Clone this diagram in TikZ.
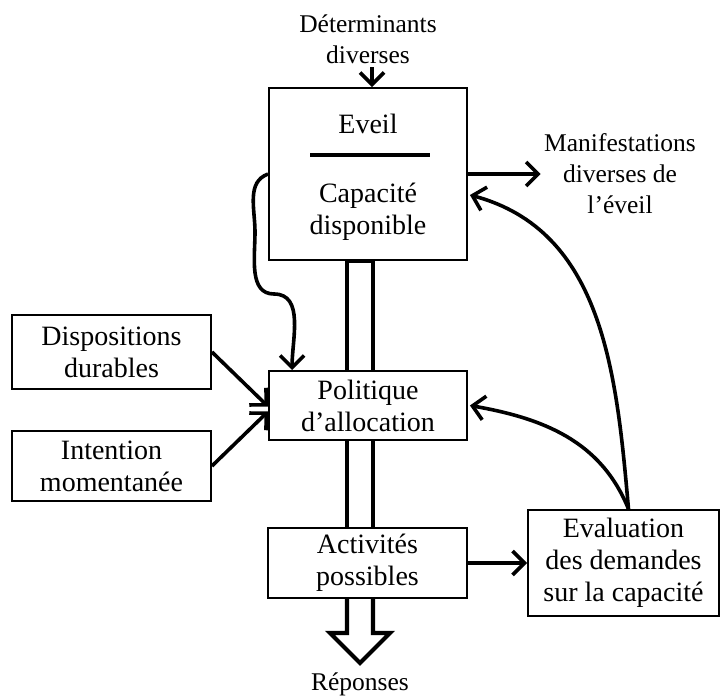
\documentclass[tikz,border=0pt]{standalone}
\usepackage{fontspec}
\setmainfont{Liberation Serif}
\usetikzlibrary{calc,arrows.meta}
\newcommand{\boxfont}{\fontsize{28}{32}\selectfont}
\newcommand{\lblfont}{\fontsize{25.5}{31}\selectfont}
\tikzset{
  box/.style={draw, line width=1.9pt, inner sep=0pt, align=center, font=\boxfont},
  txt/.style={align=center, font=\boxfont},
  lbl/.style={align=center, font=\lblfont},
  arr/.style={line width=3.6pt, -{Straight Barb[length=12pt,width=24pt]}},
  hollow/.style={line width=4.2pt, line join=miter}
}
\begin{document}
\begin{tikzpicture}[x=1pt,y=-1pt]
  \useasboundingbox (0,0) rectangle (720,698);

  % boxes
  \node[box, minimum width=198pt, minimum height=172pt] (eveil) at (368,174) {};
  \node[txt] (eveiltxt) at (368,124) {Eveil};
  \node[txt] (capa) at (368,212) {Capacité\\disponible};
  \draw[line width=3.8pt] (310,155) -- (430,155);

  \node[box, minimum width=199pt, minimum height=74pt] (disp) at (111.5,352) {Dispositions\\durables};
  \node[box, minimum width=199pt, minimum height=70pt] (int) at (111.5,466) {Intention\\momentanée};
  \node[box, minimum width=198pt, minimum height=69pt] (pol) at (368,405.5) {Politique\\d’allocation};
  \node[box, minimum width=199pt, minimum height=70pt] (act) at (367.5,563) {Activités\\possibles};
  \node[box, minimum width=191pt, minimum height=106pt] (eval) at (623.5,563) {Evaluation\\des demandes\\sur la capacité};

  % labels
  \node[lbl] (det) at (368,39) {Déterminants\\diverses};
  \node[lbl] (manif) at (620,174) {Manifestations\\diverses de\\l’éveil};
  \node[lbl] (rep) at (360,684) {Réponses};

  % hollow arrow
  \def\shl{347}
  \def\shr{373}
  \draw[hollow] (\shl,0 |- pol.north) -- (\shl,0 |- eveil.south) -- (\shr,0 |- eveil.south) -- (\shr,0 |- pol.north);
  \draw[hollow] (\shl,0 |- pol.south) -- (\shl,0 |- act.north);
  \draw[hollow] (\shr,0 |- pol.south) -- (\shr,0 |- act.north);
  \draw[hollow] (\shl,0 |- act.south) -- (\shl,633) -- (330,633) -- (360,663) -- (390,633) -- (\shr,633) -- (\shr,0 |- act.south);

  % connectors
  \draw[arr] (det.south -| 372,0) -- (eveil.north -| 372,0);
  \draw[arr] (eveil.east |- manif) -- (manif.west);
  \draw[arr] (disp.east) -- ($(pol.west)+(0,1)$);
  \draw[arr] (int.east) -- ($(pol.west)+(0,6)$);
  \draw[arr] (act.east) -- (eval.west);
  \draw[arr] (eveil.west) to[out=200,in=90] (255,232) to[out=-90,in=180] (274,294)
    to[out=0,in=90] ($(pol.north west)+(24,0)$);
  \draw[arr] ($(eval.north)+(5,0)$) to[out=95,in=-15] ($(eveil.east)+(2,21)$);
  \draw[arr] ($(eval.north)+(5,0)$) to[out=112,in=-10] ($(pol.east)+(2,0)$);
\end{tikzpicture}
\end{document}
